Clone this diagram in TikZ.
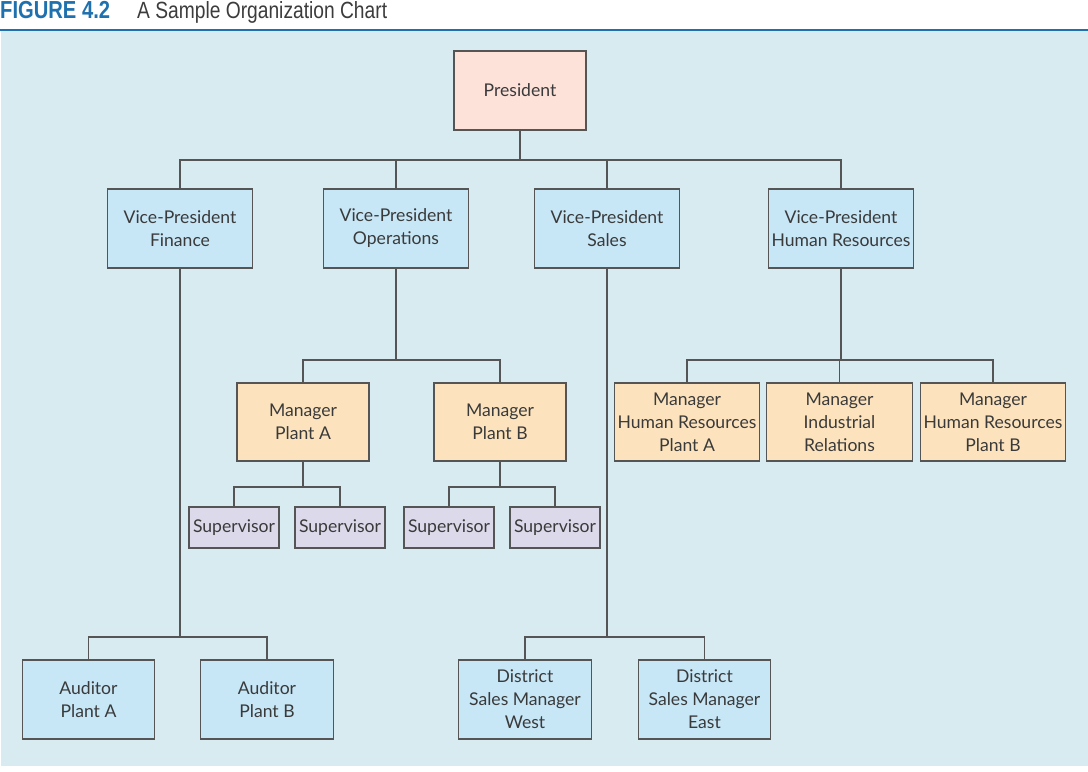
\documentclass[tikz,border=0pt]{standalone}
\usepackage{fontspec}
\setmainfont{Lato}
\newfontfamily\figurelabelfont[FakeStretch=0.82]{Liberation Sans}
\usetikzlibrary{positioning,backgrounds}
\definecolor{chart_panel_background}{HTML}{D7EBF1}
\definecolor{figure_label_colour}{HTML}{1F70AE}
\definecolor{figure_title_colour}{HTML}{3C3C3C}
\definecolor{box_border_colour}{HTML}{555555}
\definecolor{box_text_colour}{HTML}{3A3A3A}
\definecolor{president_fill_colour}{HTML}{FDE2DA}
\definecolor{vice_president_fill_colour}{HTML}{C7E6F6}
\definecolor{manager_fill_colour}{HTML}{FCE3BE}
\definecolor{supervisor_fill_colour}{HTML}{DCD9EA}
\tikzstyle{chart_box} =[draw=box_border_colour,line width=0.9pt,align=center,inner sep=0pt,text=box_text_colour,font=\fontsize{15}{19.6}\selectfont]
\tikzstyle{president_box} =[chart_box,fill=president_fill_colour,minimum width=3.96cm,minimum height=2.37cm]
\tikzstyle{vice_president_box} =[chart_box,fill=vice_president_fill_colour,minimum width=4.35cm,minimum height=2.37cm]
\tikzstyle{manager_box} =[chart_box,fill=manager_fill_colour,minimum width=3.96cm,minimum height=2.34cm]
\tikzstyle{wide_manager_box} =[manager_box,minimum width=4.37cm]
\tikzstyle{supervisor_box} =[chart_box,fill=supervisor_fill_colour,minimum width=2.7cm,minimum height=1.23cm]
\tikzstyle{lower_box} =[chart_box,fill=vice_president_fill_colour,minimum width=3.98cm,minimum height=2.37cm]
\tikzstyle{chart_line} =[draw=box_border_colour,line width=0.9pt]
\begin{document}
\begin{tikzpicture}[x=0.03cm,y=-0.03cm]

    \useasboundingbox (0,0) rectangle (1088,771);

    % Figure caption and rule
    \fill[chart_panel_background] (1,31) rectangle (1088,766);
    \draw[figure_label_colour,line width=1.6pt] (0,30) -- (1088,30);
    \node[anchor=base west,inner sep=0pt,text=figure_label_colour,font=\figurelabelfont\fontsize{21}{23}\selectfont\bfseries] (figure_label) at (0,18.5) {FIGURE 4.2};
    \node[anchor=base west,inner sep=0pt,text=figure_title_colour,font=\figurelabelfont\fontsize{20}{22}\selectfont] (figure_title) at (137,18.5) {A Sample Organization Chart};

    % Top of the chart
    \node[president_box] (president_node) at (520,90.5) {President};

    \node[vice_president_box] (vice_president_finance_node) at (180,228.5) {Vice-President\\Finance};
    \node[vice_president_box] (vice_president_operations_node) at (396,228.5) {Vice-President\\Operations};
    \node[vice_president_box] (vice_president_sales_node) at (607,228.5) {Vice-President\\Sales};
    \node[vice_president_box] (vice_president_human_resources_node) at (841,228.5) {Vice-President\\Human Resources};

    % Operations branch
    \node[manager_box] (manager_plant_a_node) at (303,422) {Manager\\Plant A};
    \node[manager_box] (manager_plant_b_node) at (500,422) {Manager\\Plant B};
    \node[supervisor_box] (supervisor_a_one_node) at (234,527.5) {Supervisor};
    \node[supervisor_box] (supervisor_a_two_node) at (340,527.5) {Supervisor};
    \node[supervisor_box] (supervisor_b_one_node) at (449,527.5) {Supervisor};
    \node[supervisor_box] (supervisor_b_two_node) at (555,527.5) {Supervisor};

    % Human resources branch
    \node[wide_manager_box] (manager_human_resources_a_node) at (687,422) {Manager\\Human Resources\\Plant A};
    \node[wide_manager_box] (manager_industrial_relations_node) at (839.5,422) {Manager\\Industrial\\Relations};
    \node[wide_manager_box] (manager_human_resources_b_node) at (993,422) {Manager\\Human Resources\\Plant B};

    % Finance and sales branches
    \node[lower_box] (auditor_plant_a_node) at (88.5,699.5) {Auditor\\Plant A};
    \node[lower_box] (auditor_plant_b_node) at (267,699.5) {Auditor\\Plant B};
    \node[lower_box] (district_sales_west_node) at (525,699.5) {District\\Sales Manager\\West};
    \node[lower_box] (district_sales_east_node) at (704.5,699.5) {District\\Sales Manager\\East};

    % Bus points
    \coordinate (president_bus) at (president_node.south |- 0,160);
    \coordinate (operations_bus) at (vice_president_operations_node.south |- 0,360);
    \coordinate (human_resources_bus) at (vice_president_human_resources_node.south |- 0,360);
    \coordinate (plant_a_bus) at (manager_plant_a_node.south |- 0,487);
    \coordinate (plant_b_bus) at (manager_plant_b_node.south |- 0,487);
    \coordinate (finance_bus) at (vice_president_finance_node.south |- 0,637);
    \coordinate (sales_bus) at (vice_president_sales_node.south |- 0,637);

    % President to vice-presidents
    \draw[chart_line] (president_node) -- (president_bus);
    \draw[chart_line] (president_bus) -| (vice_president_finance_node.north);
    \draw[chart_line] (president_bus) -| (vice_president_operations_node.north);
    \draw[chart_line] (president_bus) -| (vice_president_sales_node.north);
    \draw[chart_line] (president_bus) -| (vice_president_human_resources_node.north);

    % Operations to managers and supervisors
    \draw[chart_line] (vice_president_operations_node) -- (operations_bus);
    \draw[chart_line] (operations_bus) -| (manager_plant_a_node.north);
    \draw[chart_line] (operations_bus) -| (manager_plant_b_node.north);
    \draw[chart_line] (manager_plant_a_node) -- (plant_a_bus);
    \draw[chart_line] (plant_a_bus) -| (supervisor_a_one_node.north);
    \draw[chart_line] (plant_a_bus) -| (supervisor_a_two_node.north);
    \draw[chart_line] (manager_plant_b_node) -- (plant_b_bus);
    \draw[chart_line] (plant_b_bus) -| (supervisor_b_one_node.north);
    \draw[chart_line] (plant_b_bus) -| (supervisor_b_two_node.north);

    % Human resources to managers
    \draw[chart_line] (vice_president_human_resources_node) -- (human_resources_bus);
    \draw[chart_line] (human_resources_bus) -| (manager_human_resources_a_node.north);
    \draw[chart_line] (human_resources_bus) -| (manager_industrial_relations_node.north);
    \draw[chart_line] (human_resources_bus) -| (manager_human_resources_b_node.north);

    % Finance to auditors
    \draw[chart_line] (vice_president_finance_node) -- (finance_bus);
    \draw[chart_line] (finance_bus) -| (auditor_plant_a_node.north);
    \draw[chart_line] (finance_bus) -| (auditor_plant_b_node.north);

    % Sales to district managers
    \draw[chart_line] (vice_president_sales_node) -- (sales_bus);
    \draw[chart_line] (sales_bus) -| (district_sales_west_node.north);
    \draw[chart_line] (sales_bus) -| (district_sales_east_node.north);

\end{tikzpicture}
\end{document}
